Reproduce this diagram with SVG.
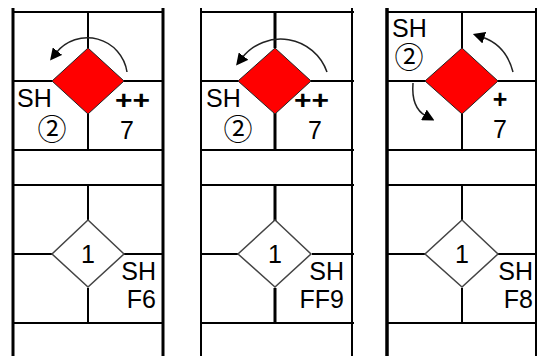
<svg xmlns="http://www.w3.org/2000/svg" width="545" height="356" viewBox="0 0 545 356">
<style>
.ln{stroke:#000;stroke-width:2;fill:none}
.thick{stroke:#000;stroke-width:3;fill:none}
.red{fill:#ff0000;stroke:#222;stroke-width:1}
.wht{fill:#fff;stroke:#444;stroke-width:1.5}
.t{font-family:"Liberation Sans",Arial,sans-serif;font-size:25px;fill:#000}
.c{font-family:"Noto Sans CJK JP","DejaVu Sans",sans-serif;font-size:29px;fill:#000}
.arr{stroke:#222;stroke-width:1.5;fill:none;marker-end:url(#ah)}
</style>
<defs>
<marker id="ah" viewBox="0 0 10 10" refX="2" refY="5" markerWidth="12" markerHeight="12" markerUnits="userSpaceOnUse" orient="auto">
<path d="M0,0 L10,5 L0,10 z" fill="#000"/>
</marker>
</defs>
<g id="grid">
<path class="thick" d="M13,8V356M163,8V356"/>
<path class="ln" d="M13,12H163M13,81H52M124,81H163M13,150H163M13,185H163M13,254H52M124,254H163M13,323H163"/>
<path class="ln" d="M88,12V48M88,113V150M88,185V221M88,288V323"/>
<path class="ln" d="M201,8V356M352,8V356"/>
<path class="ln" d="M201,12H354M201,81H238M311,81H354M201,150H354M201,185H354M201,254H238M312,254H354M201,323H354"/>
<path class="thick" d="M275,12V48M275,113V150M275,185V221M275,288V323"/>
<path class="ln" d="M387,8V356" style="stroke-width:3.5"/>
<path class="ln" d="M536,8V356"/>
<path class="ln" d="M387,12H536M387,81H425M498,81H536M387,150H536M387,185H536M387,254H425M498,254H536M387,323H536"/>
<path class="ln" d="M462,12V48M462,113V150M462,185V221M462,288V323"/>
</g>
<g id="p1-top-diamond"><path class="red" d="M88,48L124,81L88,114L52,81Z"/></g>
<g id="p2-top-diamond"><path class="red" d="M275,48L311,81L275,114L238,81Z"/></g>
<g id="p3-top-diamond"><path class="red" d="M462,48L498,81L462,114L425,81Z"/></g>
<g id="p1-bottom-diamond"><path class="wht" d="M88,220L124,254L88,287L52,254Z"/><text class="t" x="88" y="263" text-anchor="middle">1</text></g>
<g id="p2-bottom-diamond"><path class="wht" d="M275,220L311,254L275,287L238,254Z"/><text class="t" x="275" y="263" text-anchor="middle">1</text></g>
<g id="p3-bottom-diamond"><path class="wht" d="M462,220L498,254L462,287L425,254Z"/><text class="t" x="462" y="263" text-anchor="middle">1</text></g>
<g id="connectors">
<path class="arr" d="M127,72A40,40 0 0 0 56,53"/>
<path class="arr" d="M327,72A49,49 0 0 0 242,58"/>
<path class="arr" d="M513,72Q506,45 482,37"/>
<path class="arr" d="M413,83Q411,108 426,116"/>
</g>
<g id="labels">
<text class="t" x="17" y="107">SH</text>
<text class="c" x="52" y="140" text-anchor="middle">②</text>
<text class="t" x="115" y="109" font-weight="bold" textLength="35" lengthAdjust="spacingAndGlyphs">++</text>
<text class="t" x="127" y="139" text-anchor="middle">7</text>
<text class="t" x="206" y="107">SH</text>
<text class="c" x="238" y="140" text-anchor="middle">②</text>
<text class="t" x="294" y="109" font-weight="bold" textLength="35" lengthAdjust="spacingAndGlyphs">++</text>
<text class="t" x="315" y="139" text-anchor="middle">7</text>
<text class="t" x="392" y="37">SH</text>
<text class="c" x="409" y="68" text-anchor="middle">②</text>
<text class="t" x="500" y="108" text-anchor="middle" font-weight="bold">+</text>
<text class="t" x="500" y="138" text-anchor="middle">7</text>
<text class="t" x="156" y="280" text-anchor="end">SH</text>
<text class="t" x="156" y="308" text-anchor="end">F6</text>
<text class="t" x="344" y="280" text-anchor="end">SH</text>
<text class="t" x="344" y="308" text-anchor="end">FF9</text>
<text class="t" x="533" y="280" text-anchor="end">SH</text>
<text class="t" x="533" y="308" text-anchor="end">F8</text>
</g>
</svg>
